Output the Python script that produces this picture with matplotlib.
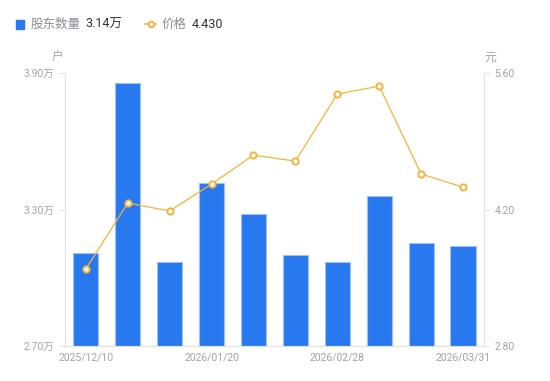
import numpy as np
import matplotlib.pyplot as plt

plt.rcParams['font.family'] = ['Roboto', 'Noto Sans CJK SC', 'DejaVu Sans']

# 数据
dates = ['2025/12/10', '2025/12/20', '2025/12/31', '2026/01/20', '2026/01/31',
         '2026/02/10', '2026/02/28', '2026/03/10', '2026/03/20', '2026/03/31']
holders = [3.11, 3.856, 3.07, 3.415, 3.28, 3.10, 3.07, 3.36, 3.153, 3.14]  # 万户
price = [3.59, 4.267, 4.185, 4.462, 4.759, 4.697, 5.385, 5.467, 4.564, 4.430]
tick_idx = [0, 3, 6, 9]

bar_color = '#2878F0'
line_color = '#F8B23A'
grey = '#A0A3AE'
spine_c = '#E3E4E8'

fig = plt.figure(figsize=(5.5, 3.81), dpi=100)
ax = fig.add_axes([0.118, 0.092, 0.762, 0.716])
x = np.arange(len(dates))

ax.bar(x, holders, width=0.6, color=bar_color, edgecolor='#9CC0F8', linewidth=0.8, zorder=2)
ax.set_xlim(-0.5, len(dates) - 0.5)
ax.set_ylim(2.70, 3.90)
ax.set_yticks([2.70, 3.30, 3.90])
ax.set_yticklabels([f'{v:.2f}万' for v in [2.70, 3.30, 3.90]])
ax.set_xticks(tick_idx)
ax.set_xticklabels([dates[i] for i in tick_idx])

ax2 = ax.twinx()
ax2.plot(x, price, color=line_color, linewidth=0.9, marker='o', markersize=4.5,
         markerfacecolor='white', markeredgecolor=line_color, markeredgewidth=1.4, zorder=3)
ax2.set_ylim(2.80, 5.60)
ax2.set_yticks([2.80, 4.20, 5.60])
ax2.set_yticklabels([f'{v:.2f}' for v in [2.80, 4.20, 5.60]])

for a in (ax, ax2):
    for s in a.spines.values():
        s.set_color(spine_c)
    a.spines['top'].set_visible(False)
    a.tick_params(axis='y', colors=spine_c, labelcolor=grey, labelsize=7.5, length=4, width=0.8)
    a.tick_params(axis='x', length=0, labelcolor=grey, labelsize=7.5, pad=5)

fig.text(58 / 550, 1 - 57 / 381, '户', color=grey, fontsize=8.5, ha='center', va='center')
fig.text(490 / 550, 1 - 57 / 381, '元', color=grey, fontsize=8.5, ha='center', va='center')

# 图例
fig.patches.append(plt.Rectangle((16 / 550, 1 - 29 / 381), 8 / 550, 9 / 381,
                                 transform=fig.transFigure, color=bar_color))
fig.text(31 / 550, 1 - 24 / 381, '股东数量', color='#8A8D99', fontsize=9, va='center')
fig.text(85 / 550, 1 - 24 / 381, '3.14万', color='#333333', fontsize=9, va='center')
fig.add_artist(plt.Line2D([145 / 550, 156 / 550], [1 - 24 / 381] * 2, color=line_color,
                          linewidth=1.2))
fig.add_artist(plt.Line2D([150.5 / 550], [1 - 24 / 381], color=line_color, marker='o', markersize=4,
                          markerfacecolor='white', markeredgewidth=1.4))
fig.text(162 / 550, 1 - 24 / 381, '价格', color='#8A8D99', fontsize=9, va='center')
fig.text(192 / 550, 1 - 24 / 381, '4.430', color='#333333', fontsize=9, va='center')

fig.savefig('out.png', dpi=100)
